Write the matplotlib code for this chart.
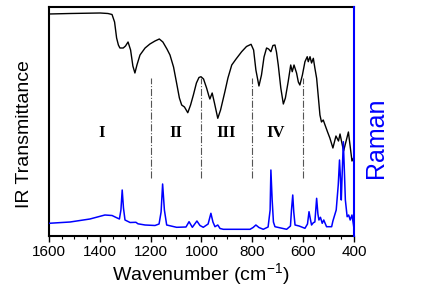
import numpy as np
import matplotlib
matplotlib.use('Agg')
import matplotlib.pyplot as plt
from matplotlib.ticker import MultipleLocator

plt.rcParams['font.family'] = ['Liberation Sans', 'DejaVu Sans']
plt.rcParams['mathtext.fontset'] = 'custom'
plt.rcParams['mathtext.rm'] = 'Liberation Sans'
plt.rcParams['mathtext.it'] = 'Liberation Sans:italic'

# IR transmittance (arbitrary units)
ir_wn = [1600, 1517, 1399, 1368, 1352, 1342, 1334, 1327, 1321, 1308, 1299, 1289,
         1279, 1270, 1262, 1254, 1242, 1222, 1203, 1183, 1166, 1152, 1136, 1124,
         1110, 1098, 1087, 1078, 1067, 1054, 1043, 1032, 1020, 1010, 1002, 992,
         980, 971, 967, 958, 949, 936, 925, 908, 896, 881, 864, 842, 823, 805,
         795, 786, 774, 764, 754, 744, 736, 727, 719, 711, 705, 698, 688, 678,
         670, 659, 649, 643, 636, 626, 619, 613, 603, 593, 584, 580, 573, 567,
         560, 554, 547, 540, 534, 528, 521, 514, 504, 495, 483, 471, 461, 455,
         441, 422, 408, 400]
ir_val = [222, 222.5, 223, 222.5, 221.5, 214, 198, 191, 188, 188, 190, 194,
          186, 170, 163, 171, 181, 188, 192, 195, 197, 194, 187, 181,
          169, 153, 138, 131, 129, 123.3, 131, 141, 153, 158.5, 159.3, 157,
          148, 140, 137, 143, 133, 117.7, 126, 144.3, 158, 171, 177, 184.3, 189.5, 191.7,
          186, 166, 150, 161, 179, 188, 187, 184.3, 190.5, 191, 184, 171, 148, 132,
          138, 154.3, 171, 164.3, 171, 163, 154, 151, 161, 174.3, 179.3, 174.3, 179.3, 173,
          177.7, 168, 157.7, 138, 121, 114, 116, 111, 104, 98, 88, 100, 95, 102,
          85, 104, 75, 79]

# Raman intensity (arbitrary units)
raman_wn = [1600, 1517, 1439, 1380, 1352, 1334, 1323, 1317, 1312, 1307, 1301, 1281,
            1258, 1250, 1222, 1183, 1167, 1159, 1153, 1146, 1137, 1098, 1061, 1049,
            1036, 1018, 1006, 993, 974, 963, 955, 947, 936, 927, 914, 809, 797,
            786, 774, 757, 738, 730, 727, 722, 717, 711, 665, 650, 646, 641, 637,
            632, 616, 593, 583, 577, 571, 567, 560, 554, 547, 542, 538, 532, 525,
            519, 508, 488, 483, 470, 462, 457, 453, 450, 446, 442, 438, 434, 427,
            421, 415, 408, 402, 400]
raman_val = [12.7, 14, 17, 21, 20.5, 18.3, 17, 26, 46, 28, 16, 13.5,
             13.7, 12.2, 11, 10.5, 12, 24, 52, 26, 11, 8.7, 9, 14.3,
             8.7, 15, 10.5, 8.7, 12, 22.7, 14, 9.3, 11, 7.5, 6.7, 6.7, 8.5,
             11, 8.5, 6.7, 9, 26, 66, 36, 14, 9.3, 6.7, 10, 26, 41, 24,
             11, 10, 7.7, 12, 24.3, 16, 11, 13.3, 14, 37.7, 22, 16, 18.7, 12.7,
             16, 9.3, 9.3, 15, 26, 51, 76, 56, 36, 66, 94.3, 66, 36, 19.3,
             21, 16, 21, 11, 7]

region_bounds = [1200, 1000, 800, 600]
region_labels = ['I', 'II', 'III', 'IV']
region_label_x = [1392, 1101, 905, 708]

W, H = 421, 294
fig = plt.figure(figsize=(W / 100, H / 100), dpi=100)
ax = fig.add_axes([49 / W, 1 - 236 / H, 305 / W, 229 / H])

ax.plot(ir_wn, ir_val, color='black', lw=1.0)
for xb in region_bounds:
    ax.plot([xb, xb], [58, 158], color='#555555', lw=0.8, ls='-.')
for xl, lab in zip(region_label_x, region_labels):
    ax.text(xl, 103, lab, ha='center', va='center', fontsize=12,
            fontweight='bold', family='Liberation Serif')

ax.set_xlim(1600, 400)
ax.set_ylim(0, 229)
ax.xaxis.set_major_locator(MultipleLocator(200))
ax.xaxis.set_minor_locator(MultipleLocator(50))
ax.tick_params(axis='x', which='major', direction='out', length=4.5, width=1.0,
               labelsize=11, pad=2)
ax.tick_params(axis='x', which='minor', direction='out', length=2.5, width=0.8)
ax.set_yticks([])
for s in ['left', 'top', 'bottom']:
    ax.spines[s].set_linewidth(1.5)
ax.spines['right'].set_visible(False)

ax2 = ax.twinx()
ax2.plot(raman_wn, raman_val, color='blue', lw=1.1)
ax2.set_ylim(0, 229)
ax2.set_yticks([])
ax2.spines['right'].set_color('blue')
ax2.spines['right'].set_linewidth(1.5)
for s in ['left', 'top', 'bottom']:
    ax2.spines[s].set_visible(False)

fig.text(201 / W, 1 - 274 / H, 'Wavenumber (cm$^{-1}$)', ha='center', va='center',
         fontsize=14)
fig.text(25 / W, 1 - 134 / H, 'IR Transmittance', rotation=90, ha='center',
         va='center', fontsize=14)
fig.text(376 / W, 1 - 138 / H, 'Raman', rotation=90, ha='center', va='center',
         fontsize=18, color='blue')

fig.savefig('out.png', dpi=100)
